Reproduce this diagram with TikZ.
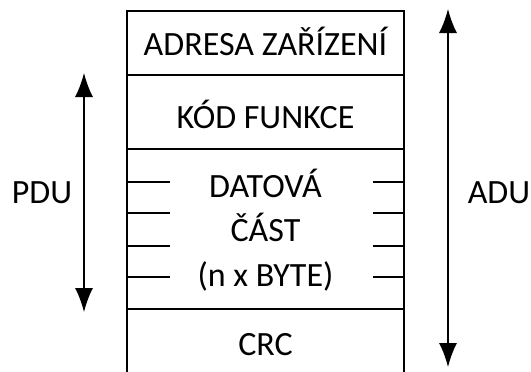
\documentclass[tikz,border=0pt]{standalone}
\usepackage{fontspec}
\setmainfont{Carlito}
\usetikzlibrary{arrows.meta}
\begin{document}
\begin{tikzpicture}[x=1pt,y=-1pt,
  frame/.style={line width=1.6pt},
  tick/.style={line width=1.3pt},
  lbl/.style={anchor=base,inner sep=0pt,font=\fontsize{34}{40}\selectfont},
  dim/.style={line width=1.4pt,{Latex[length=24pt,width=18pt]}-{Latex[length=24pt,width=18pt]}}]
\useasboundingbox (0,0) rectangle (531,372);
% frame corners
\coordinate (tl) at (127,11);
\coordinate (tr) at (404,11);
\coordinate (bl) at (127,372);
\coordinate (br) at (404,372);
\coordinate (l1) at (127,75);  \coordinate (r1) at (404,75);
\coordinate (l2) at (127,149); \coordinate (r2) at (404,149);
\coordinate (l3) at (127,309); \coordinate (r3) at (404,309);
\draw[frame] (bl) -- (tl) -- (tr) -- (br);
\draw[frame] (l1) -- (r1);
\draw[frame] (l2) -- (r2);
\draw[frame] (l3) -- (r3);
% ticks
\foreach \y in {182,213,246,277}{
  \coordinate (a) at (127,\y); \coordinate (b) at (170,\y);
  \coordinate (c) at (373,\y); \coordinate (d) at (404,\y);
  \draw[tick] (a) -- (b);
  \draw[tick] (c) -- (d);
}
% texts
\node[lbl] (adr) at (265.5,55) {ADRESA ZAŘÍZENÍ};
\node[lbl] (kod) at (265.5,128) {KÓD FUNKCE};
\node[lbl] (dat1) at (265.5,197) {DATOVÁ};
\node[lbl] (dat2) at (265.5,241) {ČÁST};
\node[lbl] (dat3) at (265.5,286) {(n x BYTE)};
\node[lbl] (crc) at (265.5,355) {CRC};
\node[lbl] (pdu) at (42,203) {PDU};
\node[lbl] (adu) at (499,203) {ADU};
% arrows
\coordinate (pt) at (84,73);
\coordinate (pb) at (84,312);
\coordinate (at) at (448,9);
\coordinate (ab) at (448,367);
\draw[dim] (pt) -- (pb);
\draw[dim] (at) -- (ab);
\end{tikzpicture}
\end{document}
